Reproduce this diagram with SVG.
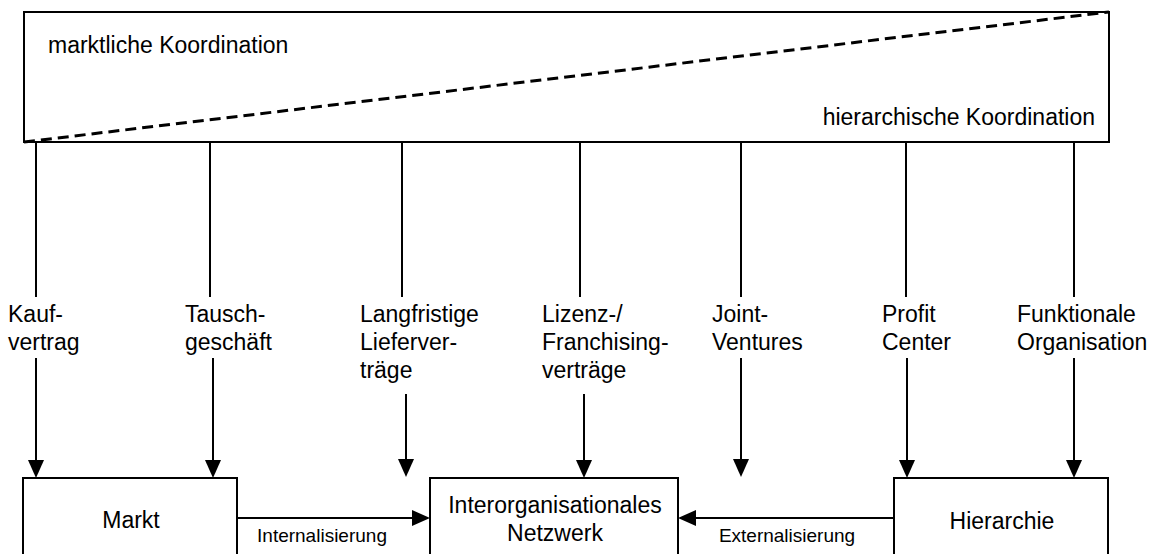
<svg xmlns="http://www.w3.org/2000/svg" width="1153" height="554" viewBox="0 0 1153 554">
<defs>
<style>
.box{fill:#fff;stroke:#000;stroke-width:2}
.ln{stroke:#000;stroke-width:2;fill:none}
.t{font-family:"Liberation Sans",Arial,sans-serif;font-size:23px;fill:#000}
.s{font-family:"Liberation Sans",Arial,sans-serif;font-size:19px;fill:#000}
.dash{stroke:#000;stroke-width:3;stroke-dasharray:11 6;fill:none}
</style>
<marker id="ah" markerUnits="userSpaceOnUse" markerWidth="18" markerHeight="16" viewBox="0 0 18 16" refX="14" refY="8" orient="auto">
<path d="M0,0 L18,8 L0,16 z" fill="#000"/>
</marker>
</defs>
<rect width="1153" height="554" fill="#fff"/>
<g id="scale">
<rect class="box" x="24" y="12" width="1085" height="130"/>
<path class="dash" d="M24,142 L1109,12"/>
<text class="t" x="48" y="53">marktliche Koordination</text>
<text class="t" x="1095" y="125" text-anchor="end">hierarchische Koordination</text>
</g>
<g id="markt">
<rect class="box" x="23" y="478" width="214" height="100"/>
<text class="t" x="131" y="528" text-anchor="middle">Markt</text>
</g>
<g id="netzwerk">
<rect class="box" x="430" y="478" width="248" height="100"/>
<text class="t" x="555" y="513" text-anchor="middle">Interorganisationales</text>
<text class="t" x="555" y="541" text-anchor="middle">Netzwerk</text>
</g>
<g id="hierarchie">
<rect class="box" x="894" y="478" width="214" height="100"/>
<text class="t" x="1002" y="529" text-anchor="middle">Hierarchie</text>
</g>
<g id="labels">
<text class="t" x="8" y="322">Kauf-</text>
<text class="t" x="8" y="350">vertrag</text>
<text class="t" x="185" y="322">Tausch-</text>
<text class="t" x="185" y="350">geschäft</text>
<text class="t" x="360" y="322">Langfristige</text>
<text class="t" x="360" y="350">Lieferver-</text>
<text class="t" x="360" y="378">träge</text>
<text class="t" x="542" y="322">Lizenz-/</text>
<text class="t" x="542" y="350">Franchising-</text>
<text class="t" x="542" y="378">verträge</text>
<text class="t" x="712" y="322">Joint-</text>
<text class="t" x="712" y="350">Ventures</text>
<text class="t" x="882" y="322">Profit</text>
<text class="t" x="882" y="350">Center</text>
<text class="t" x="1017" y="322">Funktionale</text>
<text class="t" x="1017" y="350">Organisation</text>
</g>
<g id="connectors">
<line class="ln" x1="36" y1="142" x2="36" y2="297"/>
<line class="ln" x1="210" y1="142" x2="210" y2="297"/>
<line class="ln" x1="402" y1="142" x2="402" y2="297"/>
<line class="ln" x1="580" y1="142" x2="580" y2="297"/>
<line class="ln" x1="741" y1="142" x2="741" y2="297"/>
<line class="ln" x1="906" y1="142" x2="906" y2="297"/>
<line class="ln" x1="1074" y1="142" x2="1074" y2="297"/>
<line class="ln" x1="36" y1="358" x2="36" y2="474" marker-end="url(#ah)"/>
<line class="ln" x1="213" y1="358" x2="213" y2="474" marker-end="url(#ah)"/>
<line class="ln" x1="406" y1="394" x2="406" y2="473" marker-end="url(#ah)"/>
<line class="ln" x1="584" y1="394" x2="584" y2="474" marker-end="url(#ah)"/>
<line class="ln" x1="741" y1="358" x2="741" y2="473" marker-end="url(#ah)"/>
<line class="ln" x1="907" y1="358" x2="907" y2="474" marker-end="url(#ah)"/>
<line class="ln" x1="1074" y1="358" x2="1074" y2="474" marker-end="url(#ah)"/>
<line class="ln" x1="237" y1="518" x2="426" y2="518" marker-end="url(#ah)"/>
<line class="ln" x1="894" y1="518" x2="682" y2="518" marker-end="url(#ah)"/>
<text class="s" x="322" y="542" text-anchor="middle">Internalisierung</text>
<text class="s" x="787" y="542" text-anchor="middle">Externalisierung</text>
</g>
</svg>
